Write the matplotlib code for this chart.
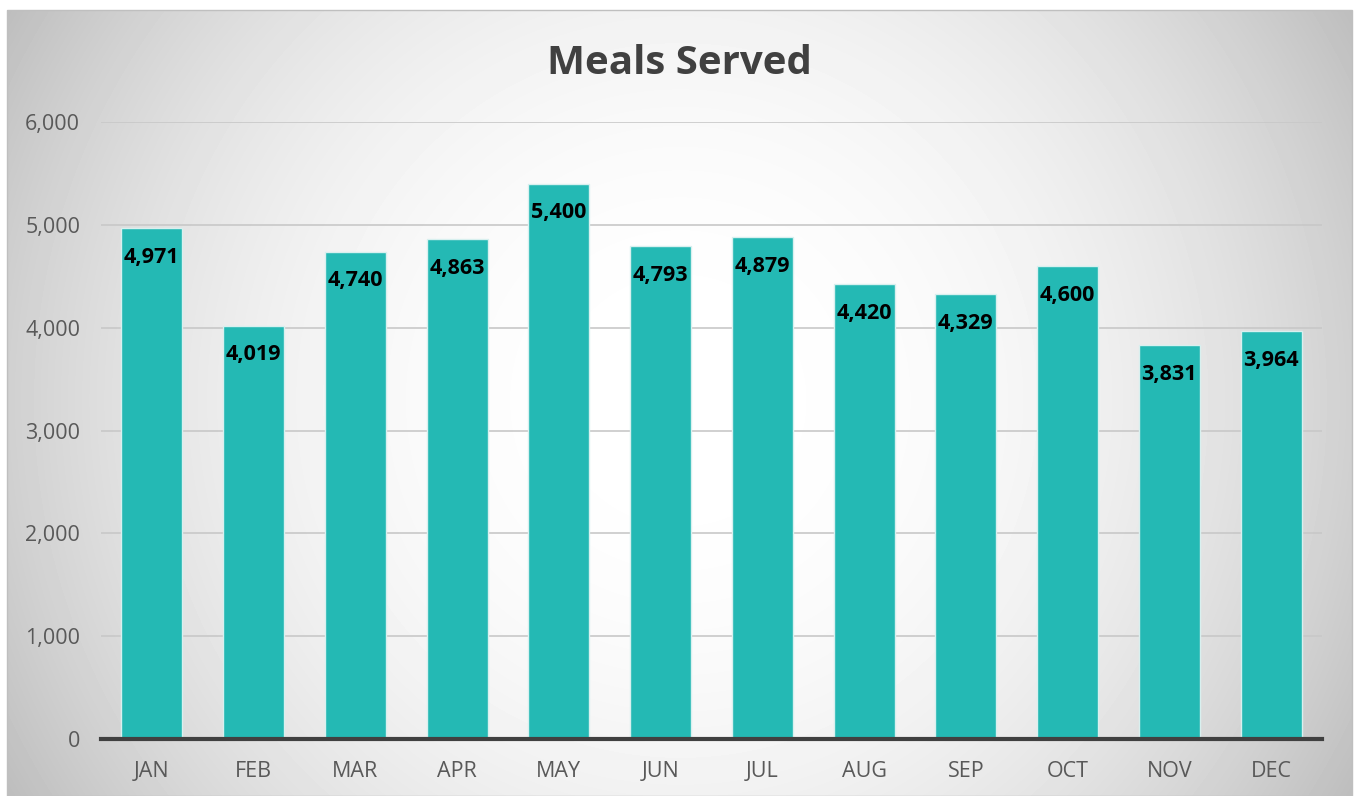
import numpy as np
import matplotlib
matplotlib.use('Agg')
import matplotlib.pyplot as plt
from matplotlib.patches import Rectangle

plt.rcParams['font.family'] = ['Open Sans', 'DejaVu Sans']

months = ['JAN', 'FEB', 'MAR', 'APR', 'MAY', 'JUN', 'JUL', 'AUG', 'SEP', 'OCT', 'NOV', 'DEC']
meals = [4971, 4019, 4740, 4863, 5400, 4793, 4879, 4420, 4329, 4600, 3831, 3964]
yticks = [0, 1000, 2000, 3000, 4000, 5000, 6000]

W, H = 1354, 796
fig = plt.figure(figsize=(W / 100, H / 100), dpi=100)

# background panel with radial gradient
bg = fig.add_axes([0, 0, 1, 1])
bg.set_xlim(0, W)
bg.set_ylim(H, 0)
bg.axis('off')
x0, y0, x1, y1 = 7, 10, 1352, 796
xx, yy = np.meshgrid(np.arange(x0, x1), np.arange(y0, y1))
d = np.hypot(xx - 680, yy - 400)
v = (255 - 47 * (d / 673) ** 2.3) / 255
v = np.clip(v, 0.72, 1)
bg.imshow(v, cmap='gray', vmin=0, vmax=1, extent=(x0, x1, y1, y0), aspect='auto', interpolation='bilinear')
bg.add_patch(Rectangle((x0, y0), x1 - x0, y1 - y0, fill=False, edgecolor='#bfbfbf', lw=1))

ax = fig.add_axes([101 / W, 1 - 739 / H, (1322 - 101) / W, (739 - 122) / H])
ax.patch.set_alpha(0)
x = np.arange(len(months))
bars = ax.bar(x, meals, width=0.6, color='#24b9b4', edgecolor='#d8f0ef', linewidth=1, zorder=3)
ax.set_xlim(-0.5, len(months) - 0.5)
ax.set_ylim(0, 6000)
ax.set_yticks(yticks)
ax.set_yticklabels(['{:,}'.format(t) for t in yticks], fontsize=15.5, color='#595959')
ax.set_xticks(x)
ax.set_xticklabels(months, fontsize=15.5, color='#595959')
ax.tick_params(length=0)
ax.tick_params(axis='y', pad=15)
ax.tick_params(axis='x', pad=16)
ax.grid(axis='y', color='#c8c8c8', lw=1.2, zorder=0)
for s in ['top', 'right', 'left']:
    ax.spines[s].set_visible(False)
ax.spines['bottom'].set_color('#404040')
ax.spines['bottom'].set_linewidth(3)
ax.spines['bottom'].set_zorder(4)

for b, val in zip(bars, meals):
    ax.annotate('{:,}'.format(val), (b.get_x() + b.get_width() / 2, val),
                xytext=(0, -13.5), textcoords='offset points', ha='center', va='top',
                fontsize=15.5, fontweight='bold', color='black', zorder=5)

fig.text(679 / W, 1 - 63 / H, 'Meals Served', ha='center', va='center',
         fontsize=29, fontweight='bold', color='#404040')

fig.savefig('out.png', dpi=100)
